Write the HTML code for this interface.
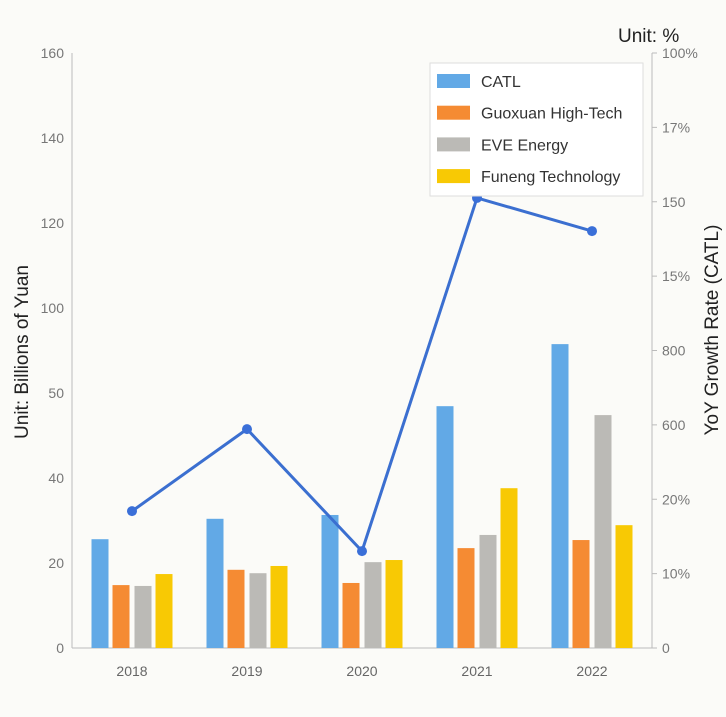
<!DOCTYPE html>
<html><head><meta charset="utf-8"><style>
body{margin:0;background:#fbfbf8;}
svg{display:block;font-family:"Liberation Sans",sans-serif;}
</style></head><body>
<svg id="c" width="726" height="717"></svg>
<script>
const categories=["2018","2019","2020","2021","2022"];
const catl=[25.6,30.4,31.3,56.9,71.5];
const guoxuan=[14.8,18.4,15.3,23.5,25.4];
const eve=[14.6,17.6,20.2,26.6,54.8];
const funeng=[17.4,19.3,20.7,37.6,28.9];
const growth=[32.2,51.5,22.8,105.9,98.1];
const leftTicks=["0","20","40","50","100","120","140","160"];
const rightTicks=["0","10%","20%","600","800","15%","150","17%","100%"];
const seriesNames=["CATL","Guoxuan High-Tech","EVE Energy","Funeng Technology"];

const NS="http://www.w3.org/2000/svg";
const svg=document.getElementById('c');
const X0=72,X1=652,Y0=648,Y1=53;
const yScale=v=>Y0-v/140*(Y0-Y1);
const xScale=i=>132+i*115;
function mk(t,a,p){const e=document.createElementNS(NS,t);for(const k in a)e.setAttribute(k,a[k]);(p||svg).appendChild(e);return e;}
// axes
let e=mk('line',{x1:X0,y1:Y1,x2:X0,y2:Y0,stroke:'#bbb'});

e=mk('line',{x1:X1,y1:Y1,x2:X1,y2:Y0,stroke:'#bbb'});

e=mk('line',{x1:X0,y1:Y0,x2:X1,y2:Y0,stroke:'#bbb'});

leftTicks.forEach((t,i)=>{const y=Y0-i*(Y0-Y1)/(leftTicks.length-1);
 const el=mk('text',{x:64,y:y+5,'text-anchor':'end','font-size':14,fill:'#777'});el.textContent=t;
 });
rightTicks.forEach((t,i)=>{const y=Y0-i*(Y0-Y1)/(rightTicks.length-1);
 mk('line',{x1:X1,y1:y,x2:X1+5,y2:y,stroke:'#bbb'});
 const el=mk('text',{x:662,y:y+5,'font-size':14,fill:'#777'});el.textContent=t;
 });
categories.forEach((c,i)=>{const el=mk('text',{x:xScale(i),y:676,'text-anchor':'middle','font-size':14,fill:'#666'});el.textContent=c;
 });
// bars
const colors=["#62a9e6","#f58b33","#bbbab6","#f8c904"];
const sets=[catl,guoxuan,eve,funeng];const offs=[-32,-11,11,32];
sets.forEach((s,si)=>s.forEach((v,i)=>{
 const r=mk('rect',{x:xScale(i)+offs[si]-8.5,y:yScale(v),width:17,height:Y0-yScale(v),fill:colors[si]});
 
 }));
// line
const pl=mk('polyline',{points:growth.map((v,i)=>xScale(i)+','+yScale(v)).join(' '),fill:'none',stroke:'#3b6fd0','stroke-width':3});

growth.forEach((v,i)=>{const c=mk('circle',{cx:xScale(i),cy:yScale(v),r:5,fill:'#3a6fd8'});
 });
// legend
const lg=mk('g',{});
mk('rect',{x:430,y:63,width:213,height:133,fill:'#fff',stroke:'#ddd'},lg);
seriesNames.forEach((n,i)=>{const y=81+i*31.7;
 const g=mk('g',{},lg);
 mk('rect',{x:437,y:y-7,width:33,height:14,fill:colors[i]},g);
 const t=mk('text',{x:481,y:y+6,'font-size':16,fill:'#333'},g);t.textContent=n;});
// titles
let t=mk('text',{x:618,y:42,'font-size':19,fill:'#222'});t.textContent='Unit: %';

t=mk('text',{x:0,y:0,'font-size':19,fill:'#222','text-anchor':'middle',transform:'translate(28,352) rotate(-90)'});t.textContent='Unit: Billions of Yuan';

t=mk('text',{x:0,y:0,'font-size':19,fill:'#222','text-anchor':'middle',transform:'translate(718,330) rotate(-90)'});t.textContent='YoY Growth Rate (CATL)';

</script></body></html>
